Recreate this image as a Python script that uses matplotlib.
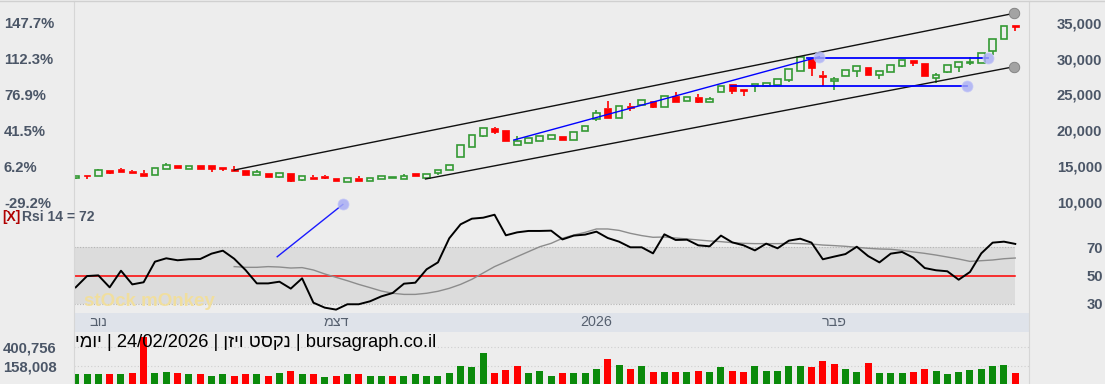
import matplotlib
matplotlib.use('Agg')
import matplotlib.pyplot as plt
from matplotlib.patches import Rectangle
from matplotlib.lines import Line2D

# ---------------- data ----------------
opens = [13325, 13743, 13645, 14481, 14620, 14383, 14063, 13826, 14662, 15136,
         14620, 15136, 15220, 14830, 14662, 14481, 13743, 14063, 13548, 14021,
         13088, 13548, 13603, 13408, 12768, 13408, 12907, 13186, 13367, 13186,
         14063, 13367, 14021, 14481, 16292, 17643, 19259, 20290, 20095, 17963,
         18242, 18521, 18799, 19259, 18618, 19955, 21585, 23159, 21725, 23396,
         23535, 24093, 23257, 24831, 24093, 24650, 23995, 25346, 26419, 25806,
         26141, 26224, 26321, 27060, 28272, 29985, 27714, 26920, 27575, 28272,
         28787, 27714, 28132, 28968, 29762, 29386, 27255, 28174, 28871, 29344,
         29344, 31099, 32771, 34638]
highs = [13690, 13760, 14662, 14520, 14760, 14420, 14481, 14801, 15500, 15180,
         15038, 15136, 15220, 14900, 15038, 14481, 14440, 14063, 14021, 14021,
         13687, 13770, 13770, 13408, 13408, 13687, 13325, 13603, 13548, 13880,
         14063, 13960, 14523, 15136, 17963, 19315, 20290, 20513, 20095, 19217,
         18897, 19175, 19315, 19259, 19733, 20610, 22797, 24093, 23438, 23772,
         24274, 24093, 24747, 25305, 24692, 25026, 24608, 26141, 26419, 25806,
         26419, 26558, 27116, 28550, 30222, 29985, 28313, 27394, 28411, 28968,
         28787, 28313, 29149, 29804, 29762, 29386, 27951, 29107, 29484, 30264,
         30821, 32771, 34582, 34721]
lows = [13240, 13269, 13620, 13990, 14140, 14000, 13687, 13826, 14662, 14700,
        14600, 14579, 14244, 14383, 14383, 13826, 13743, 13548, 13325, 12850,
        12990, 13269, 13269, 12990, 12768, 12990, 12907, 13186, 13367, 13186,
        13620, 13367, 13790, 14481, 16292, 17643, 19120, 19454, 18560, 17963,
        18242, 18521, 18799, 18618, 18618, 19955, 21307, 21766, 21725, 22741,
        23535, 23076, 23257, 23995, 24093, 23856, 23995, 25346, 25026, 24831,
        25388, 26224, 26321, 26781, 28272, 27575, 26182, 25625, 27575, 27478,
        27673, 27116, 28132, 28787, 28968, 27575, 26642, 28035, 28091, 29107,
        29344, 30500, 32771, 33802]
closes = [13603, 13645, 14481, 14021, 14161, 14021, 13687, 14801, 15177, 14718,
          15038, 14579, 14600, 14640, 14383, 13826, 14202, 13548, 14021, 12990,
          13687, 13269, 13408, 12990, 13408, 12990, 13325, 13603, 13548, 13580,
          13620, 13960, 14523, 15136, 17963, 19315, 20290, 19816, 18560, 18520,
          18897, 19175, 19315, 18618, 19733, 20610, 22463, 21766, 23438, 23118,
          24274, 23299, 24747, 23995, 24692, 23995, 24330, 26141, 25500, 25460,
          26419, 26558, 27116, 28550, 30222, 28731, 27394, 27157, 28411, 28968,
          27673, 28313, 29149, 29804, 29344, 27575, 27673, 29107, 29484, 29567,
          30821, 32771, 34582, 34443]
volumes = [51500, 51500, 51500, 51500, 51500, 64300, 532000, 64300, 85600, 72800,
           60000, 51500, 34500, 60000, 34500, 60000, 51500, 34500, 72800, 98400,
           60000, 51500, 21700, 34500, 51500, 51500, 34500, 34500, 34500, 34500,
           51500, 34500, 34500, 72800, 162300, 141000, 328000, 64300, 111100, 153700,
           64300, 98400, 34500, 72800, 72800, 72800, 115500, 243200, 166500, 115500,
           153700, 85600, 85600, 85600, 85600, 98400, 85600, 141000, 98400, 85600,
           153700, 98400, 98400, 162300, 153700, 141000, 218000, 179700, 115500, 85600,
           192100, 64300, 72800, 72800, 85600, 115500, 98400, 51500, 85600, 102700,
           115500, 153700, 175000, 64300]
rsi = [41.6, 49.6, 50.1, 41.6, 53.4, 43.7, 45.2, 59.8, 62.2, 60.8,
       61.5, 61.7, 65.5, 67.6, 61.9, 53.9, 44.4, 44.4, 45.6, 40.7,
       48.0, 30.7, 27.2, 25.8, 29.6, 29.6, 31.7, 35.2, 37.6, 44.2,
       44.9, 54.4, 59.3, 76.4, 86.3, 90.3, 91.0, 93.1, 78.5, 80.6,
       81.6, 81.6, 81.8, 75.6, 78.3, 79.0, 81.1, 76.6, 74.0, 70.0,
       70.0, 65.7, 79.2, 75.2, 75.4, 71.4, 70.7, 78.3, 73.5, 71.4,
       67.8, 72.6, 69.3, 74.7, 76.1, 73.3, 61.5, 63.4, 65.2, 70.4,
       63.8, 59.3, 65.5, 66.7, 62.6, 55.3, 53.7, 53.0, 47.0, 52.5,
       65.7, 73.3, 74.0, 72.4]
rsi_signal_start = 14
rsi_signal = [56.3, 55.8, 55.8, 56.3, 56.0, 55.3, 55.6, 53.9, 51.1, 48.7,
              46.3, 43.7, 41.4, 39.0, 37.4, 36.6, 36.6, 37.4, 38.8, 40.9,
              43.7, 47.3, 51.8, 56.3, 59.8, 63.4, 66.9, 70.4, 72.8, 76.4,
              78.7, 80.6, 83.0, 83.0, 82.0, 79.9, 78.3, 77.1, 77.3, 76.6,
              75.9, 75.2, 74.5, 74.0, 73.3, 72.8, 72.6, 72.6, 72.6, 72.8,
              72.6, 72.3, 71.6, 71.2, 70.7, 70.0, 69.3, 68.8, 68.6, 67.8,
              66.7, 65.7, 64.5, 63.1, 61.7, 60.0, 60.5, 61.0, 61.9, 62.4]

price_ticks = [10000, 15000, 20000, 25000, 30000, 35000]
pct_labels = ['-29.2%', '6.2%', '41.5%', '76.9%', '112.3%', '147.7%']
rsi_ticks = [30, 50, 70]
rsi_levels = (30, 50, 70)
vol_ticks = [158008, 400756]
month_pos = [2, 23, 46, 67]
month_labels = ['נוב', 'דצמ', '2026', 'פבר']
title = 'יומי | 24/02/2026 | נקסט ויזן | bursagraph.co.il'

# drawn trend lines (index, price)
channel_upper = ((14.0, 14480), (82.9, 36310))
channel_lower = ((30.9, 13230), (82.9, 28870))
blue_rise = ((38.7, 18660), (65.7, 30260))
blue_top = ((64.6, 30040), (80.6, 30040))
blue_bottom = ((57.9, 26140), (78.7, 26140))
rsi_blue = ((17.8, 63.3), (23.6, 100.4))

# ---------------- helpers ----------------
W, H = 1105, 384
BG = '#ededed'
TXT = '#4b5667'
FONT = ['Liberation Sans', 'DejaVu Sans']
GREEN = '#339933'
RED = '#ff0000'
VGREEN = '#0b8a0b'
TICK_FS = 10.7


def rect(x0, y0, x1, y1):
    return [x0 / W, 1 - y1 / H, (x1 - x0) / W, (y1 - y0) / H]


def vis(s):
    """Reverse Hebrew runs so they display right-to-left."""
    parts = s.split(' | ')
    out = []
    for p in parts:
        if any('\u0590' <= ch <= '\u05ff' for ch in p):
            out.append(p[::-1])
        else:
            out.append(p)
    return ' | '.join(out)


def px2pt(p):
    return p * 72.0 / 100.0


n = len(closes)
idx = list(range(n))
XL = ((74 - 75.7) / 11.32, (1029 - 75.7) / 11.32)

fig = plt.figure(figsize=(W / 100, H / 100), dpi=100)
fig.patch.set_facecolor(BG)

fig.text(84 / W, 1 - 302 / H, 'stOck mOnkey', fontsize=13.5, color='#f3df98', alpha=0.9,
         weight='bold', family=FONT, va='center', ha='left')

# ---------------- RSI axes ----------------
ax_r = fig.add_axes(rect(74, 2, 1029, 313), label='rsi')
ax_r.patch.set_visible(False)
ax_r.set_xlim(*XL)
rsi_px = 1.41  # pixels per rsi unit
ax_r.set_ylim(50 - (313 - 275.5) / rsi_px, 50 + (275.5 - 2) / rsi_px)
band_x = [XL[0], n - 1]
ax_r.fill_between(band_x, rsi_levels[0], rsi_levels[2], color='#d9d9d9', alpha=0.85,
                  zorder=1, lw=0)
for lv in (rsi_levels[0], rsi_levels[2]):
    ax_r.plot(band_x, [lv, lv], color='#b5b5b5', lw=0.8, ls=(0, (1, 1.5)), zorder=2)
ax_r.plot(band_x, [rsi_levels[1]] * 2, color=RED, lw=1.1, zorder=3)
ax_r.plot(list(range(rsi_signal_start, rsi_signal_start + len(rsi_signal))), rsi_signal,
          color='#8c8c8c', lw=1.0, zorder=4)
ax_r.plot(idx, rsi, color='black', lw=1.4, zorder=5)
ax_r.plot([rsi_blue[0][0], rsi_blue[1][0]], [rsi_blue[0][1], rsi_blue[1][1]],
          color='#1a1aff', lw=1.0, zorder=5)
ax_r.plot([rsi_blue[1][0]], [rsi_blue[1][1]], 'o', ms=px2pt(11), mfc='#a9aef5',
          mec='#c4c7f7', mew=0.6, alpha=0.85, zorder=6)
ax_r.yaxis.tick_right()
ax_r.set_yticks(rsi_ticks)
ax_r.set_yticklabels([str(v) for v in rsi_ticks])
ax_r.tick_params(axis='y', length=0, pad=px2pt(74), labelsize=TICK_FS, labelcolor=TXT)
for lbl in ax_r.get_yticklabels():
    lbl.set_ha('right'); lbl.set_fontweight('bold'); lbl.set_family(FONT)
ax_r.set_xticks([])
for s in ax_r.spines.values():
    s.set_visible(False)

# ---------------- price axes ----------------
ax_p = fig.add_axes(rect(74, 2, 1029, 313), label='price')
ax_p.patch.set_visible(False)
ax_p.set_xlim(*XL)
ppx = 5000 / 35.9
ylim_p = (35000 - (313 - 22.7) * ppx, 35000 + (22.7 - 2) * ppx)
ax_p.set_ylim(*ylim_p)

cw = 0.6
minh = 1.6 * ppx
for i in idx:
    o, h, l, c = opens[i], highs[i], lows[i], closes[i]
    up = c >= o
    col = GREEN if up else RED
    top, bot = max(o, c), min(o, c)
    if top - bot < minh:
        mid = (top + bot) / 2
        top, bot = mid + minh / 2, mid - minh / 2
    if h > top:
        ax_p.plot([i, i], [top, h], color=col, lw=1.2, zorder=3, solid_capstyle='butt')
    if l < bot:
        ax_p.plot([i, i], [l, bot], color=col, lw=1.2, zorder=3, solid_capstyle='butt')
    if up:
        ax_p.add_patch(Rectangle((i - cw / 2, bot), cw, top - bot, facecolor=BG,
                                 edgecolor=col, lw=1.2, zorder=4))
    else:
        ax_p.add_patch(Rectangle((i - cw / 2, bot), cw, top - bot, facecolor=col,
                                 edgecolor=col, lw=0.5, zorder=4))

for ln in (channel_upper, channel_lower):
    ax_p.plot([ln[0][0], ln[1][0]], [ln[0][1], ln[1][1]], color='#111111', lw=1.0, zorder=5)
    ax_p.plot([ln[1][0]], [ln[1][1]], 'o', ms=px2pt(10.5), mfc='#a3a3a3', mec='#7d7d7d',
              mew=0.6, zorder=6)
for ln, lw in ((blue_rise, 1.0), (blue_top, 1.3), (blue_bottom, 1.3)):
    ax_p.plot([ln[0][0], ln[1][0]], [ln[0][1], ln[1][1]], color='#0000ff', lw=lw, zorder=5)
    ax_p.plot([ln[1][0]], [ln[1][1]], 'o', ms=px2pt(11), mfc='#a9aef5', mec='#c4c7f7',
              mew=0.6, alpha=0.8, zorder=6)

ax_p.set_yticks(price_ticks)
ax_p.set_yticklabels(pct_labels)
ax_p.tick_params(axis='y', length=0, pad=px2pt(70), labelsize=TICK_FS, labelcolor=TXT)
for lbl in ax_p.get_yticklabels():
    lbl.set_ha('left'); lbl.set_fontweight('bold'); lbl.set_family(FONT)
ax_p.set_xticks([])
for s in ax_p.spines.values():
    s.set_visible(False)

ax_pt = ax_p.twinx()
ax_pt.set_ylim(*ylim_p)
ax_pt.set_yticks(price_ticks)
ax_pt.set_yticklabels([f'{v:,}' for v in price_ticks])
ax_pt.tick_params(axis='y', length=0, pad=px2pt(73), labelsize=TICK_FS, labelcolor=TXT)
for lbl in ax_pt.get_yticklabels():
    lbl.set_ha('right'); lbl.set_fontweight('bold'); lbl.set_family(FONT)
for s in ax_pt.spines.values():
    s.set_visible(False)

# ---------------- date band ----------------
ax_d = fig.add_axes(rect(74, 313, 1029, 332), label='dates')
ax_d.set_facecolor('#dfe3ea')
ax_d.set_xlim(*XL)
ax_d.set_ylim(0, 1)
ax_d.set_yticks([])
ax_d.set_xticks(month_pos)
ax_d.set_xticklabels([vis(m) for m in month_labels])
ax_d.tick_params(axis='x', length=0, pad=-px2pt(9.5), labelsize=10.3, labelcolor='#56606f')
for lbl in ax_d.get_xticklabels():
    lbl.set_va('center'); lbl.set_family(FONT)
for s in ax_d.spines.values():
    s.set_visible(False)

# ---------------- volume ----------------
ax_v = fig.add_axes(rect(74, 333, 1029, 384), label='vol')
ax_v.patch.set_visible(False)
ax_v.set_xlim(*XL)
vpx = (vol_ticks[1] - vol_ticks[0]) / 19.0
vlo = vol_ticks[0] - (384 - 366) * vpx
vhi = vol_ticks[0] + (366 - 333) * vpx
ax_v.set_ylim(vlo, vhi)
vcols = [VGREEN if (i == 0 or closes[i] >= closes[i - 1]) else RED for i in idx]
ax_v.bar(idx, [v - vlo for v in volumes], bottom=vlo, width=0.62, color=vcols, zorder=3)
ax_v.set_yticks(vol_ticks)
ax_v.set_yticklabels([f'{v:,}' for v in vol_ticks])
ax_v.tick_params(axis='y', length=0, pad=px2pt(71), labelsize=TICK_FS, labelcolor=TXT)
for lbl in ax_v.get_yticklabels():
    lbl.set_ha('left'); lbl.set_fontweight('bold'); lbl.set_family(FONT)
ax_v.yaxis.grid(True, color='#cfcfcf', ls=(0, (1, 2)), lw=0.8)
ax_v.set_xticks([])
for s in ax_v.spines.values():
    s.set_visible(False)

# ---------------- texts & frame ----------------
fig.text(75 / W, 1 - 347 / H, vis(title), fontsize=13.2, color='black', family=FONT,
         va='baseline', ha='left', zorder=10)
fig.text(2 / W, 1 - 217 / H, '[X]', fontsize=10, color='#b00000', weight='bold',
         family=FONT, va='center', ha='left')
fig.text(22 / W, 1 - 217 / H, f'Rsi 14 = {int(rsi[-1])}', fontsize=10, color=TXT,
         weight='bold', family=FONT, va='center', ha='left')

for xx in (74, 1029):
    fig.add_artist(Line2D([xx / W, xx / W], [0, 1 - 1 / H], color='#d6d6d6', lw=0.8))
fig.add_artist(Line2D([0, 1], [1 - 1 / H, 1 - 1 / H], color='#d0d0d0', lw=1.0))

fig.savefig('out.png', dpi=100, facecolor=fig.get_facecolor())
